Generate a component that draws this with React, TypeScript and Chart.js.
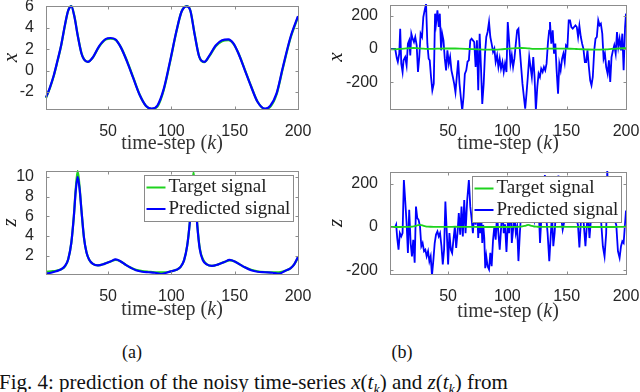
import React, { useEffect, useRef } from "react";
import { Chart, registerables } from "chart.js";

Chart.register(...registerables);

// ---------- data ----------
// smooth x(t_k) signal (left-top panel; also the target in the right-top panel)
const K_X = [1, 4, 7, 10, 13, 16, 18.5, 21, 23.5, 26,
  29, 31, 34, 38, 43, 48, 52, 56, 60, 65,
  70, 75, 80, 84.5, 89, 94, 99, 104, 108, 112,
  115, 118.5, 122, 126, 130, 135, 140, 145, 149, 153,
  158, 163, 168, 174, 178, 183, 188, 194, 200];
const X_TARGET = [-2.55, -1.65, -0.55, 0.85, 2.35, 4.25, 5.6, 6.02, 5.05, 3.35,
  1.65, 1.08, 0.82, 1.22, 2.25, 2.9, 3.0, 2.88, 2.22, 0.9,
  -0.68, -2.25, -3.3, -3.58, -3.35, -1.8, 0.82, 3.65, 5.5, 6.02,
  5.62, 3.35, 1.32, 0.8, 1.35, 2.28, 2.75, 2.85, 2.5, 1.62,
  0.1, -1.45, -2.88, -3.58, -3.4, -2.25, 0.2, 3.0, 5.0];
const X_PRED = [-2.5, -1.6, -0.5, 0.9, 2.4, 4.3, 5.6, 6.0, 5.0, 3.3,
  1.6, 1.05, 0.82, 1.25, 2.3, 2.95, 3.05, 2.9, 2.2, 0.85,
  -0.73, -2.28, -3.3, -3.55, -3.25, -1.7, 0.9, 3.7, 5.5, 6.0,
  5.6, 3.3, 1.3, 0.82, 1.4, 2.35, 2.85, 2.93, 2.55, 1.6,
  0.05, -1.5, -2.9, -3.55, -3.3, -2.15, 0.3, 3.1, 5.1];

// smooth z(t_k) signal (left-bottom panel; also the target in the right-bottom panel)
const K_Z = [1, 5, 9, 13, 16, 18.5, 21, 23, 24.5, 26,
  27.5, 29, 31, 33, 35, 38, 42, 47, 52, 56,
  60, 64, 68, 72, 77, 82, 87, 92, 96, 100,
  104, 107, 110, 112.5, 114.5, 116, 117.5, 119, 120.5, 122.5,
  125, 128, 132, 137, 142, 146, 150, 154, 158, 163,
  168, 174, 180, 185, 190, 194, 197, 200];
const Z_TARGET = [0.35, 0.4, 0.45, 0.6, 0.9, 1.6, 3.3, 6.0, 8.8, 10.6,
  9.0, 6.6, 3.8, 2.3, 1.6, 1.15, 1.0, 1.15, 1.4, 1.55,
  1.4, 1.05, 0.75, 0.55, 0.42, 0.35, 0.3, 0.3, 0.3, 0.4,
  0.55, 0.8, 1.5, 3.0, 5.3, 7.8, 10.5, 7.9, 5.1, 2.7,
  1.6, 1.1, 0.95, 1.1, 1.35, 1.5, 1.4, 1.1, 0.8, 0.55,
  0.4, 0.32, 0.3, 0.3, 0.45, 0.7, 1.1, 1.8];
const Z_PRED = [0.15, 0.25, 0.4, 0.6, 0.95, 1.6, 3.3, 6.0, 8.6, 10.0,
  8.8, 6.6, 3.8, 2.3, 1.6, 1.15, 1.0, 1.15, 1.4, 1.6,
  1.4, 1.05, 0.75, 0.5, 0.35, 0.3, 0.25, 0.1, 0.25, 0.4,
  0.55, 0.8, 1.5, 3.0, 5.3, 7.8, 10.0, 7.8, 5.0, 2.6,
  1.5, 1.1, 0.95, 1.1, 1.35, 1.55, 1.4, 1.1, 0.8, 0.5,
  0.35, 0.3, 0.25, 0.15, 0.45, 0.7, 1.1, 1.85];

// noisy prediction of x (right-top panel)
const K_XN = [1, 3, 5.4, 6.8, 7.6, 8.8, 9.6, 10.5, 11.6, 12.4,
  13.8, 15, 16.1, 17.2, 18.1, 19, 20.1, 21.2, 22.3, 23.5,
  24.6, 25.7, 26.8, 28, 29.1, 30.2, 31.4, 32.5, 33.6, 34.5,
  35.6, 36.7, 37.9, 39, 39.8, 41, 42.1, 43, 44.1, 45,
  46.1, 47.2, 48.3, 49.4, 50.6, 51.7, 52.8, 54, 55.1, 56.2,
  57.4, 58.5, 59.6, 60.7, 61.9, 63, 64.1, 65.3, 66.4, 67.5,
  68.7, 69.8, 70.9, 72, 73.2, 74.3, 75.4, 76.6, 77.7, 78.8,
  80, 81.1, 82.2, 83.3, 84.5, 85.6, 86.7, 87.9, 89, 90.1,
  91.3, 92.4, 93.5, 94.6, 95.8, 96.9, 98, 99.2, 100.3, 101.4,
  102.6, 103.7, 104.8, 105.9, 107.1, 108.2, 109.3, 110.5, 111.6, 112.7,
  113.9, 115, 116.1, 117.2, 118.4, 119.5, 120.6, 121.8, 122.9, 124,
  125.2, 126.3, 127.4, 128.5, 129.7, 130.8, 131.9, 133, 134.2, 135.2,
  135.9, 137, 138.2, 139.3, 140.4, 141.5, 142.7, 143.8, 144.9, 146.1,
  147.2, 148.3, 149.4, 150.6, 151.7, 152.8, 153.9, 155.1, 156.2, 157.4,
  158.5, 159.6, 160.7, 161.9, 163, 164.1, 165.3, 166.4, 167.5, 168.7,
  169.8, 170.9, 172, 173.2, 174.3, 175.4, 176.6, 177.7, 178.8, 180,
  181.1, 182.2, 183.3, 184.5, 185.6, 186.7, 187.8, 189, 190.1, 191.3,
  192.4, 193.5, 194.6, 195.8, 196.9, 198, 199.2, 200];
const X_NOISY = [0, 0, 0, -58, -78, -28, 122, -88, -138, -68,
  -48, -98, 32, 52, -38, 92, 62, 42, 72, 22,
  -138, -48, 92, 72, 192, 232, 270, 32, -58, -68,
  -168, -248, -208, 212, 152, 232, 132, 212, -8, 92,
  52, -58, -128, -8, -88, -48, -128, -168, -208, -260,
  -158, -68, -208, -288, -370, -288, -150, -128, -75, -68,
  52, 62, 52, 42, -108, 52, -248, 92, -108, -330,
  -208, -28, 72, 102, 162, 72, 32, -18, 2, -78,
  -38, -108, -58, -118, -78, -138, -88, -138, 162, 52,
  -88, -38, -108, -58, 32, 112, 122, -8, -108, -208,
  -288, -358, -268, -168, -48, -108, -168, -48, -168, -368,
  -228, -148, -168, -118, -138, -108, -128, -88, 40, 110,
  162, 32, 112, -28, 32, -128, -268, -88, -128, -58,
  -28, -78, 22, 12, 172, 172, 132, 122, 132, 142,
  132, 72, 140, 72, 32, 2, -78, -78, -8, -108,
  -188, -218, -168, -8, 62, 72, 172, 142, 152, 92,
  -58, -28, -108, -148, -68, -198, -48, -8, 22, -28,
  102, 12, 62, -8, 92, -128, 132, 212];

// noisy prediction of z (right-bottom panel)
const K_ZN = [1, 3, 5.4, 6.2, 7.1, 8.2, 9.3, 10.5, 11.6, 12.7,
  13.8, 15, 16.1, 17.2, 18.4, 19.5, 20.6, 21.8, 22.9, 24,
  25.1, 26.3, 27.4, 28.5, 29.7, 30.8, 31.9, 33.1, 34.2, 35.3,
  36.4, 37.6, 38.7, 39.8, 41, 42.1, 43.2, 44.4, 45.5, 46.6,
  47.7, 48.9, 50, 51.1, 52.3, 53.4, 54.5, 55.7, 56.8, 57.9,
  59, 60.2, 61.3, 62.4, 63.6, 64.7, 66.1, 67.5, 68.7, 69.8,
  70.9, 72, 73.2, 74.3, 75.4, 76.3, 77.1, 78, 78.8, 79.6,
  80.5, 81.3, 82.2, 83.3, 84.5, 85.6, 86.7, 87.9, 89, 90.1,
  91.3, 92.4, 93.5, 94.6, 95.8, 96.9, 98, 99.2, 100.3, 101.4,
  102.6, 103.7, 104.8, 105.9, 107.1, 108.2, 109.3, 110.5, 111.6, 112.7,
  113.9, 115, 116, 117, 118.3, 119.5, 120.5, 121.5, 122.7, 124,
  125, 126.3, 127.5, 128.5, 129.7, 130.5, 131.6, 132.5, 133.9, 135.3,
  136.5, 137.6, 138.7, 139.8, 141, 142, 143, 144, 145, 146.6,
  148, 149, 150, 152.3, 154, 156, 158, 159.5, 160.7, 162,
  163.5, 165.8, 167, 168, 169.2, 170.5, 172, 174, 176, 177.5,
  179.1, 180.5, 181.9, 183.3, 184.2, 185.5, 187, 188.5, 190, 191.8,
  193.2, 194.6, 195.8, 196.9, 198, 199.2, 200];
const Z_NOISY = [0, 0, 0, 11, -51, -105, -28, -43, -28, 219,
  126, 18, -120, 80, -74, -136, -59, -166, 95, 42,
  34, 3, -89, -74, -112, -105, -136, -112, -159, -136,
  -225, -151, -74, -35, -20, -43, -28, -89, -174, -105,
  119, -28, -174, -28, -105, -120, -59, 3, -97, -28,
  65, -35, 95, -43, 126, -28, 126, 219, 95, 40,
  -28, 60, 11, 120, -51, 80, -28, 50, -74, 10,
  -51, -191, -136, -182, -197, -120, -182, -59, 3, -59,
  60, -28, -105, -12, 90, -28, 13, -115, 11, -28,
  150, -74, -12, 60, -28, 3, -158, -28, 70, 30,
  40, 110, 70, 150, 90, 40, 120, 60, 30, 80,
  50, 100, -74, 30, 60, 20, 242, 60, -28, -158,
  -43, 60, -89, -28, 80, 150, 240, 120, 60, -12,
  26, 100, 60, 40, 120, 90, 40, 10, -95, 30,
  80, -89, 10, 60, -51, 40, 100, 60, 130, 90,
  20, -90, -136, -28, 265, 60, 120, 80, 40, 10,
  -112, -143, -89, -66, -74, 18, 77];

const X_TICKS = [50, 100, 150, 200];
const Y_TICKS_XA = [-2, 0, 2, 4, 6];
const Y_TICKS_ZA = [2, 4, 6, 8, 10];
const Y_TICKS_B = [-200, 0, 200];
const LEGEND_LABELS = ["Target signal", "Predicted signal"];
const X_LABEL = ["time-step (", "k", ")"];

// ---------- styles ----------
const GREEN = "#1ed31e";
const BLUE = "#0000ff";
const TICK_COLOR = "#262626";
const FRAME_COLOR = "#8c8c8c";
const SANS = '"Liberation Sans", Arial, sans-serif';
const SERIF = '"Liberation Serif", "Times New Roman", serif';

const pts = (ks: number[], vs: number[]) => ks.map((k, i) => ({ x: k, y: vs[i] }));

type Spec = {
  left: number; top: number; width: number; height: number;
  area: [number, number, number, number];
  yMin: number; yMax: number; yTicks: number[];
  yLabel: string; yTitlePad: number;
  target: [number[], number[]]; pred: [number[], number[]];
  noisy: boolean; legend: boolean; xLabelOffset: number; lw: number;
};

function Panel({ spec }: { spec: Spec }) {
  const ref = useRef<HTMLCanvasElement | null>(null);
  useEffect(() => {
    const canvas = ref.current;
    if (!canvas) return;
    const [l, t, r, b] = spec.area;

    const framePlugin = {
      id: "frame",
      afterDatasetsDraw(chart: any) {
        const { ctx, chartArea: a, scales } = chart;
        ctx.save();
        ctx.strokeStyle = FRAME_COLOR;
        ctx.lineWidth = 1;
        const L = Math.round(a.left) + 0.5, T = Math.round(a.top) + 0.5;
        const R = Math.round(a.right) + 0.5, B = Math.round(a.bottom) + 0.5;
        ctx.strokeRect(L, T, R - L, B - T);
        ctx.beginPath();
        scales.x.ticks.forEach((tk: any) => {
          const px = Math.round(scales.x.getPixelForValue(tk.value)) + 0.5;
          ctx.moveTo(px, B); ctx.lineTo(px, B - 3);
          ctx.moveTo(px, T); ctx.lineTo(px, T + 3);
        });
        scales.y.ticks.forEach((tk: any) => {
          const py = Math.round(scales.y.getPixelForValue(tk.value)) + 0.5;
          ctx.moveTo(L, py); ctx.lineTo(L + 3, py);
          ctx.moveTo(R, py); ctx.lineTo(R - 3, py);
        });
        ctx.stroke();
        ctx.restore();
      },
    };

    const xLabelPlugin = {
      id: "xlabel",
      afterDraw(chart: any) {
        const { ctx, chartArea: a } = chart;
        ctx.save();
        const fonts = [`20px ${SERIF}`, `italic 20px ${SERIF}`, `20px ${SERIF}`];
        const widths = X_LABEL.map((s, i) => { ctx.font = fonts[i]; return ctx.measureText(s).width; });
        const total = widths.reduce((p, c) => p + c, 0);
        let x = (a.left + a.right) / 2 - total / 2;
        const y = a.bottom + spec.xLabelOffset;
        ctx.textBaseline = "middle";
        ctx.textAlign = "left";
        ctx.fillStyle = "#333333";
        X_LABEL.forEach((s, i) => { ctx.font = fonts[i]; ctx.fillText(s, x, y); x += widths[i]; });
        ctx.restore();
      },
    };

    const legendPlugin = {
      id: "boxlegend",
      afterDraw(chart: any) {
        if (!spec.legend) return;
        const { ctx, chartArea: a } = chart;
        const w = 149, h = 46;
        const bx = Math.round(a.right - 5 - w) + 0.5;
        const by = Math.round(a.top + 4) + 0.5;
        ctx.save();
        ctx.fillStyle = "#ffffff";
        ctx.fillRect(bx, by, w, h);
        ctx.strokeStyle = "#8a8a8a";
        ctx.lineWidth = 1;
        ctx.strokeRect(bx, by, w, h);
        const entries = LEGEND_LABELS.map((lab) => chart.data.datasets.find((d: any) => d.label === lab));
        const rowsY = [by + 12, by + 33.5];
        entries.forEach((d: any, i: number) => {
          const y = rowsY[i];
          ctx.strokeStyle = d.borderColor;
          ctx.lineWidth = 2;
          ctx.beginPath();
          ctx.moveTo(bx + 2, y); ctx.lineTo(bx + 21, y);
          ctx.stroke();
          ctx.font = `19px ${SERIF}`;
          ctx.fillStyle = "#222222";
          ctx.textBaseline = "middle";
          ctx.textAlign = "left";
          ctx.fillText(d.label, bx + 24, y);
        });
        ctx.restore();
      },
    };

    const tickFont = { family: SANS, size: 16 };
    const chart = new Chart(canvas, {
      type: "line",
      data: {
        datasets: [
          {
            label: LEGEND_LABELS[0],
            data: pts(spec.target[0], spec.target[1]),
            borderColor: GREEN,
            borderWidth: spec.lw,
            pointRadius: 0,
            cubicInterpolationMode: "monotone",
            order: spec.noisy ? 0 : 1,
            clip: 1,
          },
          {
            label: LEGEND_LABELS[1],
            data: pts(spec.pred[0], spec.pred[1]),
            borderColor: BLUE,
            borderWidth: spec.lw,
            pointRadius: 0,
            tension: 0,
            cubicInterpolationMode: spec.noisy ? "default" : "monotone",
            order: spec.noisy ? 1 : 0,
            clip: 1,
          },
        ],
      } as any,
      options: {
        animation: false,
        responsive: false,
        maintainAspectRatio: false,
        events: [],
        layout: { padding: { left: 0, top: t, right: spec.width - r, bottom: 0 } },
        plugins: { legend: { display: false }, tooltip: { enabled: false } },
        scales: {
          x: {
            type: "linear",
            min: 1,
            max: 200,
            grid: { display: false },
            border: { display: false },
            ticks: { font: tickFont, color: TICK_COLOR, padding: 5, maxRotation: 0, autoSkip: false },
            afterBuildTicks: (s: any) => { s.ticks = X_TICKS.map((v) => ({ value: v })); },
            afterFit: (s: any) => { s.height = spec.height - b; s.paddingLeft = 0; s.paddingRight = 0; },
          },
          y: {
            type: "linear",
            min: spec.yMin,
            max: spec.yMax,
            grid: { display: false },
            border: { display: false },
            ticks: { font: tickFont, color: TICK_COLOR, padding: 4, autoSkip: false },
            afterBuildTicks: (s: any) => { s.ticks = spec.yTicks.map((v) => ({ value: v })); },
            afterFit: (s: any) => { s.width = l; s.paddingTop = 0; s.paddingBottom = 0; },
            title: {
              display: true,
              text: spec.yLabel,
              color: "#1a1a1a",
              font: { family: SERIF, size: 21, style: "italic", lineHeight: 1 },
              padding: { top: spec.yTitlePad, bottom: 0 },
            },
          },
        },
      } as any,
      plugins: [framePlugin, legendPlugin, xLabelPlugin],
    });
    return () => chart.destroy();
  }, [spec]);

  return (
    <canvas
      ref={ref}
      width={spec.width}
      height={spec.height}
      style={{ position: "absolute", left: spec.left, top: spec.top, width: spec.width, height: spec.height }}
    />
  );
}

const PANELS: Spec[] = [
  {
    left: 0, top: 0, width: 320, height: 160, area: [46, 6, 298, 109],
    yMin: -3.58, yMax: 6.04, yTicks: Y_TICKS_XA, yLabel: "x", yTitlePad: 1,
    target: [K_X, X_TARGET], pred: [K_X, X_PRED], noisy: false, legend: false, xLabelOffset: 34.5, lw: 2.2,
  },
  {
    left: 320, top: 0, width: 320, height: 160, area: [70, 5, 306, 109],
    yMin: -360, yMax: 264, yTicks: Y_TICKS_B, yLabel: "x", yTitlePad: 6,
    target: [K_X, X_TARGET], pred: [K_XN, X_NOISY], noisy: true, legend: false, xLabelOffset: 34.5, lw: 1.8,
  },
  {
    left: 0, top: 160, width: 320, height: 170, area: [46, 11, 298, 114],
    yMin: 0.12, yMax: 10.6, yTicks: Y_TICKS_ZA, yLabel: "z", yTitlePad: 0,
    target: [K_Z, Z_TARGET], pred: [K_Z, Z_PRED], noisy: false, legend: true, xLabelOffset: 36, lw: 2.2,
  },
  {
    left: 320, top: 160, width: 320, height: 170, area: [70, 12, 306, 114],
    yMin: -218, yMax: 256, yTicks: Y_TICKS_B, yLabel: "z", yTitlePad: 6,
    target: [K_Z, Z_TARGET], pred: [K_ZN, Z_NOISY], noisy: true, legend: true, xLabelOffset: 37.5, lw: 1.8,
  },
];

export default function App() {
  const capStyle: React.CSSProperties = {
    position: "absolute", width: 100, textAlign: "center", fontFamily: SERIF,
    fontSize: 18, lineHeight: "18px", color: "#111", top: 343,
  };
  return (
    <div style={{ position: "fixed", left: 0, top: 0, width: 640, height: 392, background: "#fff", overflow: "hidden" }}>
      {PANELS.map((p, i) => <Panel key={i} spec={p} />)}
      <div style={{ ...capStyle, left: 82 }}>(a)</div>
      <div style={{ ...capStyle, left: 352 }}>(b)</div>
      <div style={{ position: "absolute", left: -1, top: 372, whiteSpace: "nowrap", fontFamily: SERIF, fontSize: 21, lineHeight: "21px", color: "#111" }}>
        Fig. 4: prediction of the noisy time-series <i>x</i>(<i>t</i><sub style={{ fontSize: 14, lineHeight: 0 }}><i>k</i></sub>) and <i>z</i>(<i>t</i><sub style={{ fontSize: 14, lineHeight: 0 }}><i>k</i></sub>) from
      </div>
    </div>
  );
}
